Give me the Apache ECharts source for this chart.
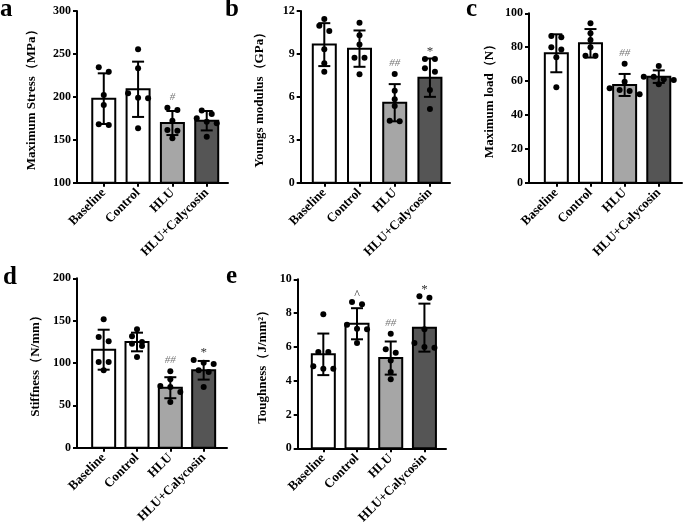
<!DOCTYPE html>
<html><head><meta charset="utf-8">
<script src="https://cdn.jsdelivr.net/npm/echarts@6/dist/echarts.min.js"></script>
<style>html,body{margin:0;padding:0;background:#fff}#c{width:685px;height:526px}</style>
</head><body><div id="c"></div>
<script>
// ---------- DATA ----------
const categories = ['Baseline', 'Control', 'HLU', 'HLU+Calycosin'];
const panelLetters = ['a', 'b', 'c', 'd', 'e'];
const yTitles = ['Maximum Stress（MPa）', 'Youngs modulus（GPa）', 'Maximum load（N）', 'Stiffness（N/mm）', 'Toughness（J/mm²）'];

// a: Maximum stress
const ticksA = [100, 150, 200, 250, 300];
const meanA = [197.9, 208.8, 169.5, 172.2];
const sdA = [29.5, 32.2, 14.0, 11.3];
const dotsA = [
  [234.4, 229.3, 202.2, 190.5, 168.0, 167.2],
  [255.4, 233.2, 204.1, 199.0, 198.3, 163.4],
  [187.4, 184.7, 172.2, 161.4, 160.6, 151.7],
  [184.1, 180.0, 175.0, 171.1, 169.2, 153.6]
];
const marksA = ['', '', '#', ''];

// b: Youngs modulus
const ticksB = [0, 3, 6, 9, 12];
const meanB = [9.65, 9.37, 5.59, 7.34];
const sdB = [1.5, 1.27, 1.3, 1.34];
const dotsB = [
  [11.44, 10.97, 10.6, 9.32, 8.34, 7.76],
  [11.18, 10.3, 9.66, 8.74, 8.74, 7.58],
  [7.6, 6.43, 5.83, 5.36, 4.33, 4.29],
  [8.65, 8.65, 8.0, 7.76, 6.48, 5.15]
];
const marksB = ['', '', '##', '*'];

// c: Maximum load
const ticksC = [0, 20, 40, 60, 80, 100];
const meanC = [76.4, 82.3, 57.7, 62.6];
const sdC = [11.2, 8.4, 6.5, 3.7];
const dotsC = [
  [86.6, 85.8, 79.9, 78.7, 74.0, 56.3],
  [94.1, 88.2, 84.2, 79.9, 75.0, 75.0],
  [70.2, 59.6, 55.7, 54.7, 54.1, 52.2],
  [68.9, 62.6, 62.6, 61.0, 60.6, 58.1]
];
const marksC = ['', '', '##', ''];

// d: Stiffness
const ticksD = [0, 50, 100, 150, 200];
const meanD = [115.7, 124.8, 70.8, 91.4];
const sdD = [23.6, 11.0, 12.4, 11.0];
const dotsD = [
  [151.6, 130.7, 125.6, 101.2, 101.2, 91.4],
  [139.8, 131.5, 124.8, 122.8, 120.1, 107.1],
  [90.2, 80.8, 72.8, 71.7, 65.8, 54.0],
  [103.5, 100.4, 98.8, 91.4, 89.4, 71.7]
];
const marksD = ['', '', '##', '*'];

// e: Toughness
const ticksE = [0, 2, 4, 6, 8, 10];
const meanE = [5.56, 7.37, 5.34, 7.14];
const sdE = [1.23, 0.92, 0.98, 1.42];
const dotsE = [
  [7.93, 5.7, 5.7, 4.85, 4.71, 4.71],
  [8.66, 8.52, 7.31, 7.08, 7.04, 6.23],
  [6.78, 5.86, 5.66, 5.2, 4.51, 4.08],
  [8.99, 8.91, 7.04, 6.23, 5.99, 5.95]
];
const marksE = ['', '^', '##', '*'];

// ---------- LAYOUT / STYLE ----------
const panels = [
  {ticks: ticksA, mean: meanA, sd: sdA, dots: dotsA, marks: marksA},
  {ticks: ticksB, mean: meanB, sd: sdB, dots: dotsB, marks: marksB},
  {ticks: ticksC, mean: meanC, sd: sdC, dots: dotsC, marks: marksC},
  {ticks: ticksD, mean: meanD, sd: sdD, dots: dotsD, marks: marksD},
  {ticks: ticksE, mean: meanE, sd: sdE, dots: dotsE, marks: marksE}
];
const layout = [
  {left: 77, top: 11, width: 151, height: 171.7, xMin: -0.78, xMax: 3.62, nameGap: 39, lx: 0, ly: 10},
  {left: 300.7, top: 11, width: 149.3, height: 171.7, xMin: -0.67, xMax: 3.57, nameGap: 35, lx: 225, ly: 10},
  {left: 529, top: 13.3, width: 153, height: 169.4, xMin: -0.8, xMax: 3.68, nameGap: 33, lx: 466, ly: 10},
  {left: 77, top: 278.3, width: 150, height: 169.4, xMin: -0.8, xMax: 3.7, nameGap: 35, lx: 3, ly: 278},
  {left: 297.7, top: 279.3, width: 148.3, height: 169, xMin: -0.76, xMax: 3.64, nameGap: 29, lx: 226, ly: 277}
];
const barColors = ['#ffffff', '#ffffff', '#a6a6a6', '#555555'];
const SERIF = '"Liberation Serif","Times New Roman",serif';
const BAR_W = 23, CAP_W = 12, DOT_R = 3, DOT_STEP = 10, ROW_PX = 6;

function swarm(values, pxPerUnit) {
  const idx = values.map((v, i) => i).sort((a, b) => values[b] - values[a]);
  const off = new Array(values.length).fill(0);
  let row = [];
  const flush = () => { const n = row.length; row.forEach((j, k) => off[j] = (k - (n - 1) / 2) * DOT_STEP); row = []; };
  for (const j of idx) {
    if (row.length && (values[row[0]] - values[j]) * pxPerUnit > ROW_PX) flush();
    row.push(j);
  }
  flush();
  return off;
}

const grids = [], xAxes = [], yAxes = [], series = [], graphics = [];
const axisLineStyle = {color: '#000', width: 2};
const catIdx = categories.map((c, i) => i);

panels.forEach((p, k) => {
  const L = layout[k];
  const yMin = p.ticks[0], yMax = p.ticks[p.ticks.length - 1];
  const pxPerUnit = L.height / (yMax - yMin);
  grids.push({left: L.left, top: L.top, width: L.width, height: L.height, outerBoundsMode: 'none', containLabel: false});
  xAxes.push({
    gridIndex: k, type: 'value', min: L.xMin, max: L.xMax,
    axisLine: {show: true, onZero: false, lineStyle: axisLineStyle},
    axisTick: {show: true, customValues: catIdx, length: 4, lineStyle: axisLineStyle},
    axisLabel: {customValues: catIdx, formatter: v => categories[Math.round(v)], rotate: 45, margin: 8,
      color: '#000', fontFamily: SERIF, fontWeight: 'bold', fontSize: 13},
    splitLine: {show: false}
  });
  yAxes.push({
    gridIndex: k, type: 'value', min: yMin, max: yMax, interval: p.ticks[1] - p.ticks[0],
    axisLine: {show: true, onZero: false, lineStyle: axisLineStyle},
    axisTick: {show: true, length: 4, lineStyle: axisLineStyle},
    axisLabel: {color: '#000', fontFamily: SERIF, fontWeight: 'bold', fontSize: 12, margin: 6},
    splitLine: {show: false},
    name: yTitles[k], nameLocation: 'middle', nameGap: L.nameGap, nameMoveOverlap: false,
    nameTextStyle: {color: '#000', fontFamily: SERIF, fontWeight: 'bold', fontSize: 13}
  });
  // bars
  series.push({
    type: 'custom', xAxisIndex: k, yAxisIndex: k,
    data: p.mean.map((m, i) => [i, m]),
    renderItem: (params, api) => {
      const i = api.value(0);
      const top = api.coord([i, api.value(1)]);
      const base = api.coord([i, yMin]);
      return {type: 'rect', shape: {x: top[0] - BAR_W / 2, y: top[1], width: BAR_W, height: base[1] - top[1]},
        style: {fill: barColors[i], stroke: '#000', lineWidth: 2}};
    }
  });
  // error bars
  series.push({
    type: 'custom', xAxisIndex: k, yAxisIndex: k,
    data: p.mean.map((m, i) => [i, m - p.sd[i], m + p.sd[i]]),
    renderItem: (params, api) => {
      const i = api.value(0);
      const lo = api.coord([i, api.value(1)]);
      const hi = api.coord([i, api.value(2)]);
      const st = {stroke: '#000', lineWidth: 2};
      return {type: 'group', children: [
        {type: 'line', shape: {x1: lo[0], y1: lo[1], x2: hi[0], y2: hi[1]}, style: st},
        {type: 'line', shape: {x1: hi[0] - CAP_W / 2, y1: hi[1], x2: hi[0] + CAP_W / 2, y2: hi[1]}, style: st},
        {type: 'line', shape: {x1: lo[0] - CAP_W / 2, y1: lo[1], x2: lo[0] + CAP_W / 2, y2: lo[1]}, style: st}
      ]};
    }
  });
  // dots
  const dotData = [];
  p.dots.forEach((vals, i) => {
    const off = swarm(vals, pxPerUnit);
    vals.forEach((v, j) => dotData.push([i, v, off[j]]));
  });
  series.push({
    type: 'custom', xAxisIndex: k, yAxisIndex: k, data: dotData,
    renderItem: (params, api) => {
      const c = api.coord([api.value(0), api.value(1)]);
      return {type: 'circle', shape: {cx: c[0] + api.value(2), cy: c[1], r: DOT_R}, style: {fill: '#000'}};
    }
  });
  // significance marks
  series.push({
    type: 'custom', xAxisIndex: k, yAxisIndex: k,
    data: p.mean.map((m, i) => [i, Math.max(m + p.sd[i], Math.max.apply(null, p.dots[i]))]),
    renderItem: (params, api) => {
      const i = api.value(0);
      const t = p.marks[i];
      if (!t) return null;
      const c = api.coord([i, api.value(1)]);
      const isHash = t.indexOf('#') >= 0;
      const font = isHash ? 'italic 11px ' + SERIF : (t === '*' ? '13px ' + SERIF : '12px ' + SERIF);
      return {type: 'text', x: c[0], y: c[1] - (isHash ? 11 : 7),
        style: {text: t, fill: isHash ? '#777' : '#333', font: font, align: 'center', verticalAlign: 'middle'}};
    }
  });
  graphics.push({type: 'text', x: L.lx, y: L.ly,
    style: {text: panelLetters[k], fill: '#000', font: 'bold 25px ' + SERIF, align: 'left', verticalAlign: 'middle'}});
});

const chart = echarts.init(document.getElementById('c'), null, {renderer: 'canvas'});
chart.setOption({
  animation: false,
  backgroundColor: '#fff',
  grid: grids, xAxis: xAxes, yAxis: yAxes, series: series, graphic: graphics
});
</script></body></html>
